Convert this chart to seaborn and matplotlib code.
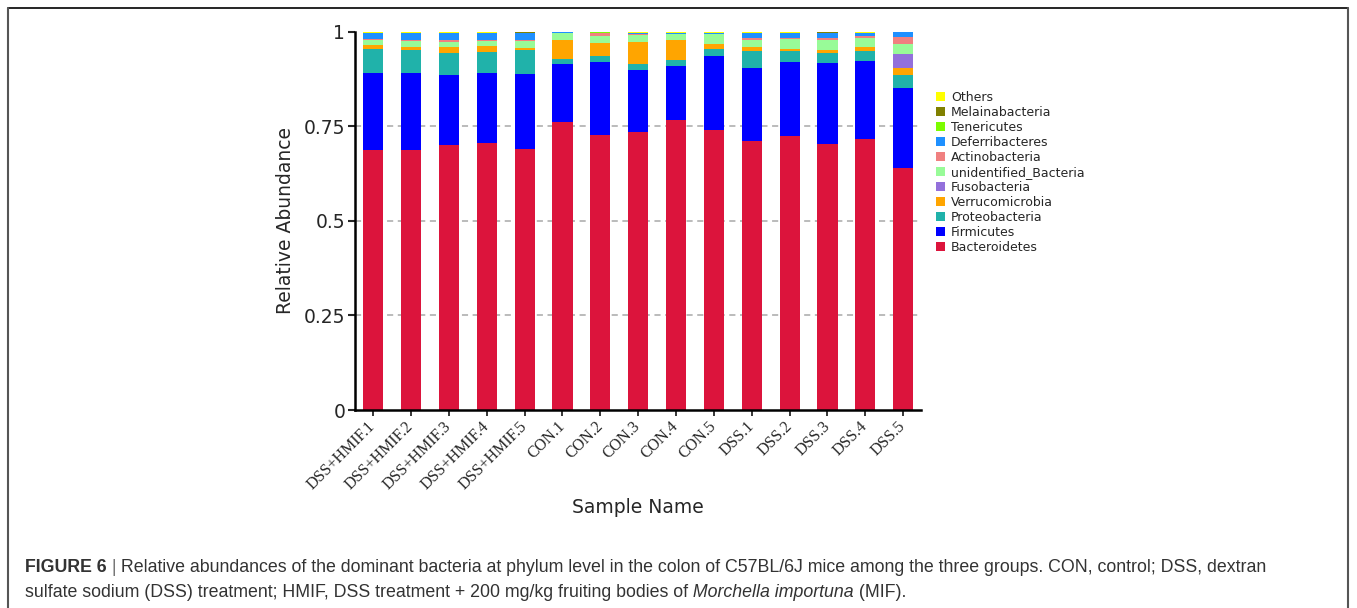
import matplotlib
matplotlib.use("Agg")
import matplotlib.pyplot as plt
from matplotlib.patches import Patch
from matplotlib.lines import Line2D
import seaborn as sns
import numpy as np

samples = ["DSS+HMIF.1", "DSS+HMIF.2", "DSS+HMIF.3", "DSS+HMIF.4", "DSS+HMIF.5",
           "CON.1", "CON.2", "CON.3", "CON.4", "CON.5",
           "DSS.1", "DSS.2", "DSS.3", "DSS.4", "DSS.5"]

# relative abundance per phylum, bottom of the stack first
bacteroidetes = [0.686, 0.688, 0.701, 0.706, 0.690, 0.761, 0.728, 0.735, 0.767, 0.741, 0.710, 0.723, 0.704, 0.717, 0.639]
firmicutes = [0.206, 0.204, 0.185, 0.185, 0.198, 0.154, 0.193, 0.163, 0.143, 0.194, 0.193, 0.198, 0.214, 0.205, 0.212]
proteobacteria = [0.063, 0.060, 0.058, 0.056, 0.064, 0.014, 0.016, 0.017, 0.014, 0.020, 0.047, 0.029, 0.027, 0.026, 0.035]
verrucomicrobia = [0.009, 0.008, 0.016, 0.014, 0.006, 0.048, 0.034, 0.059, 0.053, 0.013, 0.010, 0.005, 0.007, 0.012, 0.019]
fusobacteria = [0, 0, 0, 0, 0, 0, 0, 0, 0, 0, 0, 0, 0, 0, 0.037]
unidentified = [0.013, 0.015, 0.014, 0.014, 0.017, 0.019, 0.018, 0.018, 0.017, 0.026, 0.019, 0.025, 0.027, 0.023, 0.025]
actinobacteria = [0.004, 0.004, 0.004, 0.004, 0.004, 0, 0.007, 0.002, 0, 0, 0.005, 0.004, 0.005, 0.006, 0.019]
deferribacteres = [0.016, 0.018, 0.019, 0.018, 0.018, 0.002, 0, 0.003, 0.003, 0.003, 0.013, 0.013, 0.013, 0.008, 0.012]
tenericutes = [0, 0, 0, 0, 0, 0, 0.004, 0, 0, 0, 0, 0, 0, 0, 0]
melainabacteria = [0, 0, 0, 0, 0.003, 0, 0, 0, 0, 0, 0, 0, 0.003, 0, 0]
others = [0.003, 0.003, 0.003, 0.003, 0, 0.002, 0, 0.003, 0.003, 0.003, 0.003, 0.003, 0, 0.003, 0.002]

layers = [
    ("Bacteroidetes", bacteroidetes, "#DC143C"),
    ("Firmicutes", firmicutes, "#0000FF"),
    ("Proteobacteria", proteobacteria, "#20B2AA"),
    ("Verrucomicrobia", verrucomicrobia, "#FFA500"),
    ("Fusobacteria", fusobacteria, "#9370DB"),
    ("unidentified_Bacteria", unidentified, "#98FB98"),
    ("Actinobacteria", actinobacteria, "#F08080"),
    ("Deferribacteres", deferribacteres, "#1E90FF"),
    ("Tenericutes", tenericutes, "#7CFC00"),
    ("Melainabacteria", melainabacteria, "#808000"),
    ("Others", others, "#FFFF00"),
]

W, H = 1357, 608
sns.set_style("white")
plt.rcParams["font.family"] = ["DejaVu Sans"]

fig = plt.figure(figsize=(W / 100, H / 100), dpi=100)
ax = fig.add_axes([355 / W, (H - 410) / H, (921 - 355) / W, (410 - 31.7) / H])

# dashed guide lines behind the bars
for yv in [0.25, 0.5, 0.75]:
    ax.axhline(yv, color="#a8a8a8", linestyle=(0, (4, 3)), lw=1.1, zorder=0)

bottom = np.zeros(len(samples))
for name, vals, col in layers:
    sns.barplot(x=samples, y=vals, bottom=bottom, color=col, saturation=1, width=0.53,
                errorbar=None, linewidth=0, ax=ax, zorder=2)
    bottom = bottom + np.array(vals)

ax.set_xlim(-0.48, 14.47)
ax.set_ylim(0, 1)
ax.set_yticks([0, 0.25, 0.5, 0.75, 1])
ax.set_yticklabels(["0", "0.25", "0.5", "0.75", "1"])
sns.despine(ax=ax)
for s in ["left", "bottom"]:
    ax.spines[s].set_linewidth(1.8)
    ax.spines[s].set_color("black")
ax.tick_params(axis="y", direction="out", length=5, width=1.5, labelsize=13.5, pad=2, left=True)
ax.tick_params(axis="x", direction="out", length=4, width=1.3, pad=6, bottom=True)
ax.set_xticks(range(len(samples)))
ax.set_xticklabels(samples, rotation=45, ha="right", va="center", rotation_mode="anchor",
                   family="Liberation Serif", fontsize=11.5)
ax.set_ylabel("Relative Abundance", fontsize=13.5, labelpad=6)
ax.set_xlabel("Sample Name", fontsize=13.5, labelpad=4)

handles = [Patch(facecolor=col, edgecolor="none", label=name) for name, vals, col in layers[::-1]]
fig.legend(handles=handles, loc="upper left", bbox_to_anchor=(936 / W, 1 - 91 / H),
           frameon=False, fontsize=9, handlelength=0.75, handleheight=0.75,
           handletextpad=0.45, labelspacing=0.16, borderpad=0, borderaxespad=0)

# frame around the figure panel
fig.add_artist(Line2D([7.5 / W, 1348 / W], [1 - 7.5 / H, 1 - 7.5 / H], color="black", lw=1.2))
fig.add_artist(Line2D([7.5 / W, 7.5 / W], [0, 1 - 7.5 / H], color="#555555", lw=1.5))
fig.add_artist(Line2D([1348 / W, 1348 / W], [0, 1 - 7.5 / H], color="#555555", lw=1.5))

# caption, drawn piece by piece so the bold and italic parts line up
renderer = fig.canvas.get_renderer()
cap_size = 12.8


def caption_line(x_px, base_px, pieces):
    x = x_px
    for txt, kw in pieces:
        style = {"color": "#333333", "family": "Liberation Sans"}
        style.update(kw)
        t = fig.text(x / W, 1 - base_px / H, txt, fontsize=cap_size, va="baseline", **style)
        x += t.get_window_extent(renderer=renderer).width
    return x


caption_line(25, 572, [
    ("FIGURE 6", {"weight": "bold"}),
    (" |", {"color": "#777777"}),
    (" Relative abundances of the dominant bacteria at phylum level in the colon of C57BL/6J "
     "mice among the three groups. CON, control; DSS, dextran", {}),
])
caption_line(25, 597, [
    ("sulfate sodium (DSS) treatment; HMIF, DSS treatment + 200 mg/kg fruiting bodies of", {}),
    (" Morchella importuna", {"style": "italic"}),
    (" (MIF).", {}),
])

fig.savefig("out.png", dpi=100)
